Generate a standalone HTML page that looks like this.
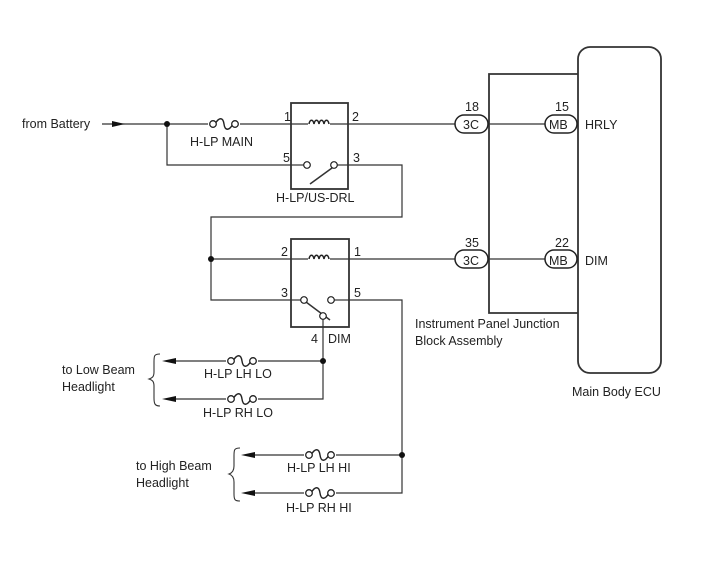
<!DOCTYPE html>
<html><head><style>
html,body{margin:0;padding:0;background:#fff;}
svg{display:block;}
text{font-family:"Liberation Sans",sans-serif;fill:#222;}
</style></head><body>
<svg width="713" height="581" viewBox="0 0 713 581" xmlns="http://www.w3.org/2000/svg">
<defs>
<g id="fuse"><path d="M-9,0 C-5,-7 -1,-7 0,0 C1,7 5,7 9,0" fill="none" stroke="#222" stroke-width="1.4"/><circle cx="-11" cy="0" r="3.3" fill="#fff" stroke="#222" stroke-width="1.3"/><circle cx="11" cy="0" r="3.3" fill="#fff" stroke="#222" stroke-width="1.3"/></g>
<g id="coil"><path d="M-10,0 C-9,-5 -6,-5 -5,0 C-4,-5 -1,-5 0,0 C1,-5 4,-5 5,0 C6,-5 9,-5 10,0" fill="none" stroke="#222" stroke-width="1.5"/></g>
</defs>
<g stroke="#333" stroke-width="1.2" fill="none">
<rect x="578" y="47" width="83" height="326" rx="12" stroke-width="1.8"/>
<polyline points="578,74 489,74 489,313 578,313" stroke-width="1.8"/>
<line x1="102" y1="124" x2="455" y2="124"/>
<polyline points="167,124 167,165 291,165"/>
<line x1="488" y1="124" x2="545" y2="124"/>
<rect x="291" y="103" width="57" height="86" fill="#fff" stroke-width="1.8"/>
<line x1="291" y1="124" x2="310" y2="124"/><line x1="328" y1="124" x2="348" y2="124"/>
<line x1="291" y1="165" x2="304" y2="165"/><line x1="337" y1="165" x2="348" y2="165"/>
<line x1="310" y1="184" x2="332" y2="168" stroke-width="1.5"/>
<polyline points="348,165 402,165 402,217 211,217 211,300 291,300"/>
<line x1="211" y1="259" x2="455" y2="259"/>
<line x1="488" y1="259" x2="545" y2="259"/>
<rect x="291" y="239" width="58" height="88" fill="#fff" stroke-width="1.8"/>
<line x1="291" y1="259" x2="310" y2="259"/><line x1="328" y1="259" x2="349" y2="259"/>
<line x1="291" y1="300" x2="301" y2="300"/><line x1="334" y1="300" x2="349" y2="300"/>
<line x1="306" y1="302" x2="330" y2="320" stroke-width="1.5"/>
<polyline points="349,300 402,300 402,493 250,493"/>
<polyline points="323,319 323,399 172,399"/>
<line x1="323" y1="361" x2="172" y2="361"/>
<line x1="402" y1="455" x2="250" y2="455"/>
</g>
<g fill="#fff" stroke="#222" stroke-width="1.2">
<circle cx="307" cy="165" r="3.3"/><circle cx="334" cy="165" r="3.3"/>
<circle cx="304" cy="300" r="3.3"/><circle cx="331" cy="300" r="3.3"/><circle cx="323" cy="316" r="3.3"/>
</g>
<g fill="#fff"><rect x="308" y="118" width="22" height="8"/><rect x="308" y="253" width="22" height="8"/>
<rect x="208" y="119" width="32" height="10"/><rect x="226" y="356" width="32" height="10"/><rect x="226" y="394" width="32" height="10"/><rect x="304" y="450" width="32" height="10"/><rect x="304" y="488" width="32" height="10"/></g>
<use href="#coil" x="319" y="124"/><use href="#coil" x="319" y="259"/>
<use href="#fuse" x="224" y="124"/>
<use href="#fuse" x="242" y="361"/><use href="#fuse" x="242" y="399"/>
<use href="#fuse" x="320" y="455"/><use href="#fuse" x="320" y="493"/>
<g fill="#111"><circle cx="167" cy="124" r="3"/><circle cx="211" cy="259" r="3"/><circle cx="323" cy="361" r="3"/><circle cx="402" cy="455" r="3"/></g>
<g fill="#111">
<polygon points="112,121 125,124 112,127"/>
<polygon points="162,361 176,358 176,364"/><polygon points="162,399 176,396 176,402"/>
<polygon points="241,455 255,452 255,458"/><polygon points="241,493 255,490 255,496"/>
</g>
<g fill="#fff" stroke="#222" stroke-width="1.5">
<rect x="455" y="115" width="33" height="18" rx="9"/><rect x="545" y="115" width="32" height="18" rx="9"/>
<rect x="455" y="250" width="33" height="18" rx="9"/><rect x="545" y="250" width="32" height="18" rx="9"/>
</g>
<g fill="none" stroke="#333" stroke-width="1.1">
<path d="M160,354 C154,354 154,356 154,362 L154,372 C154,377 152,378 149,379 C152,380 154,381 154,386 L154,398 C154,404 155,406 160,406"/>
<path d="M240,448 C234,448 234,450 234,456 L234,466 C234,471 232,473 229,474 C232,475 234,477 234,482 L234,494 C234,500 235,501 240,501"/>
</g>
<g font-size="12.5">
<text x="22" y="128">from Battery</text>
<text x="190" y="146">H-LP MAIN</text>
<text x="284" y="121">1</text><text x="352" y="121">2</text>
<text x="283" y="162">5</text><text x="353" y="162">3</text>
<text x="276" y="202">H-LP/US-DRL</text>
<text x="281" y="256">2</text><text x="354" y="256">1</text>
<text x="281" y="297">3</text><text x="354" y="297">5</text>
<text x="311" y="343">4</text><text x="328" y="343">DIM</text>
<text x="465" y="111">18</text><text x="555" y="111">15</text>
<text x="463" y="129">3C</text><text x="549" y="129">MB</text>
<text x="585" y="129">HRLY</text>
<text x="465" y="247">35</text><text x="555" y="247">22</text>
<text x="463" y="265">3C</text><text x="549" y="265">MB</text>
<text x="585" y="265">DIM</text>
<text x="415" y="328">Instrument Panel Junction</text>
<text x="415" y="345">Block Assembly</text>
<text x="572" y="396">Main Body ECU</text>
<text x="62" y="374">to Low Beam</text><text x="62" y="391">Headlight</text>
<text x="204" y="378">H-LP LH LO</text><text x="203" y="417">H-LP RH LO</text>
<text x="136" y="470">to High Beam</text><text x="136" y="487">Headlight</text>
<text x="287" y="472">H-LP LH HI</text><text x="286" y="512">H-LP RH HI</text>
</g>
</svg>
</body></html>
